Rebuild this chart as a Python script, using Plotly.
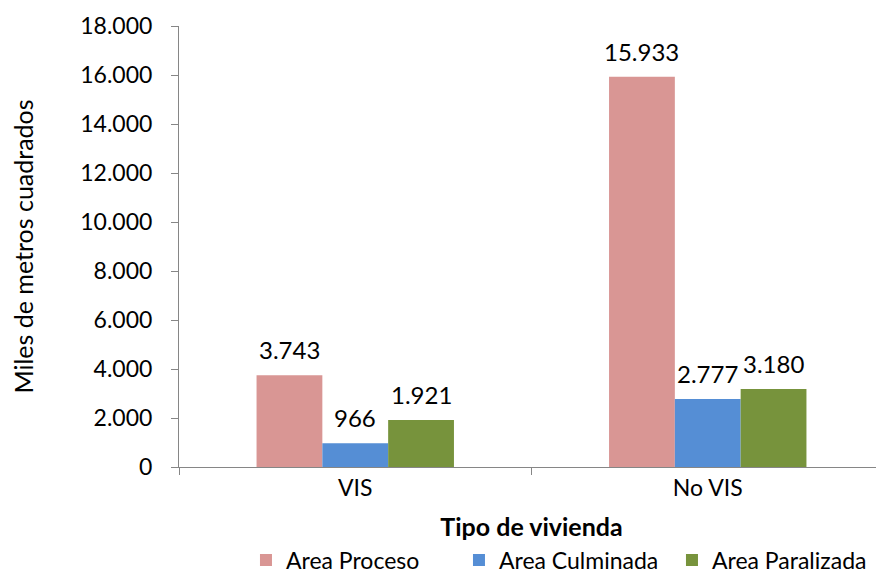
import plotly.graph_objects as go

categories = ["VIS", "No VIS"]
area_proceso = [3743, 15933]
area_culminada = [966, 2777]
area_paralizada = [1921, 3180]
y_ticks = [0, 2000, 4000, 6000, 8000, 10000, 12000, 14000, 16000, 18000]

FONT = "Lato"
AXIS_GREY = "#868686"
BARGAP = 0.44
# page body has an 8px margin, so the figure is drawn 8px smaller
FIG_W, FIG_H = 876, 565
MARGIN = dict(l=171, r=0, t=18, b=106)
PLOT_W = FIG_W - MARGIN["l"] - MARGIN["r"]

fig = go.Figure()
series = [
    ("Area Proceso", area_proceso, "#D99694"),
    ("Area Culminada", area_culminada, "#558ED5"),
    ("Area Paralizada", area_paralizada, "#77933C"),
]
for name, vals, color in series:
    fig.add_trace(
        go.Bar(
            x=categories,
            y=vals,
            name=name,
            marker=dict(color=color, line=dict(width=0)),
        )
    )

# value labels above bars (Excel leaves more room than plotly's bar text)
bar_px = PLOT_W / len(categories) * (1 - BARGAP) / len(series)
for i, (name, vals, color) in enumerate(series):
    for cat, v in zip(categories, vals):
        fig.add_annotation(
            x=cat,
            y=v,
            text=f"{v:,}".replace(",", "."),
            showarrow=False,
            xanchor="center",
            yanchor="bottom",
            xshift=(i - 1) * bar_px,
            yshift=9,
            font=dict(size=24, color="black"),
        )

fig.update_layout(
    width=FIG_W,
    height=FIG_H,
    barmode="group",
    bargap=BARGAP,
    bargroupgap=0,
    separators=",.",
    plot_bgcolor="white",
    paper_bgcolor="white",
    font=dict(family=FONT, size=23, color="black"),
    margin=dict(**MARGIN, autoexpand=False),
    legend=dict(
        orientation="h",
        x=0.095,
        xanchor="left",
        y=-0.26,
        yanchor="bottom",
        font=dict(size=23),
        itemwidth=30,
        entrywidth=168,
        traceorder="normal",
    ),
)

fig.update_xaxes(
    automargin=False,
    showline=True,
    linecolor=AXIS_GREY,
    linewidth=1,
    ticks="outside",
    tickson="boundaries",
    ticklen=7,
    tickcolor=AXIS_GREY,
    tickfont=dict(size=23),
    title=dict(text="<b>Tipo de vivienda</b>", font=dict(size=25), standoff=18),
    showgrid=False,
)
fig.update_yaxes(
    automargin=False,
    range=[0, 18000],
    tickvals=y_ticks,
    tickformat=",d",
    showline=True,
    linecolor=AXIS_GREY,
    linewidth=1,
    ticks="outside",
    ticklen=7,
    tickcolor=AXIS_GREY,
    tickfont=dict(size=23),
    ticklabelstandoff=14,
    showgrid=False,
    zeroline=False,
    title=dict(text="Miles de metros cuadrados", font=dict(size=25), standoff=46),
)

fig.write_html("out.html")
